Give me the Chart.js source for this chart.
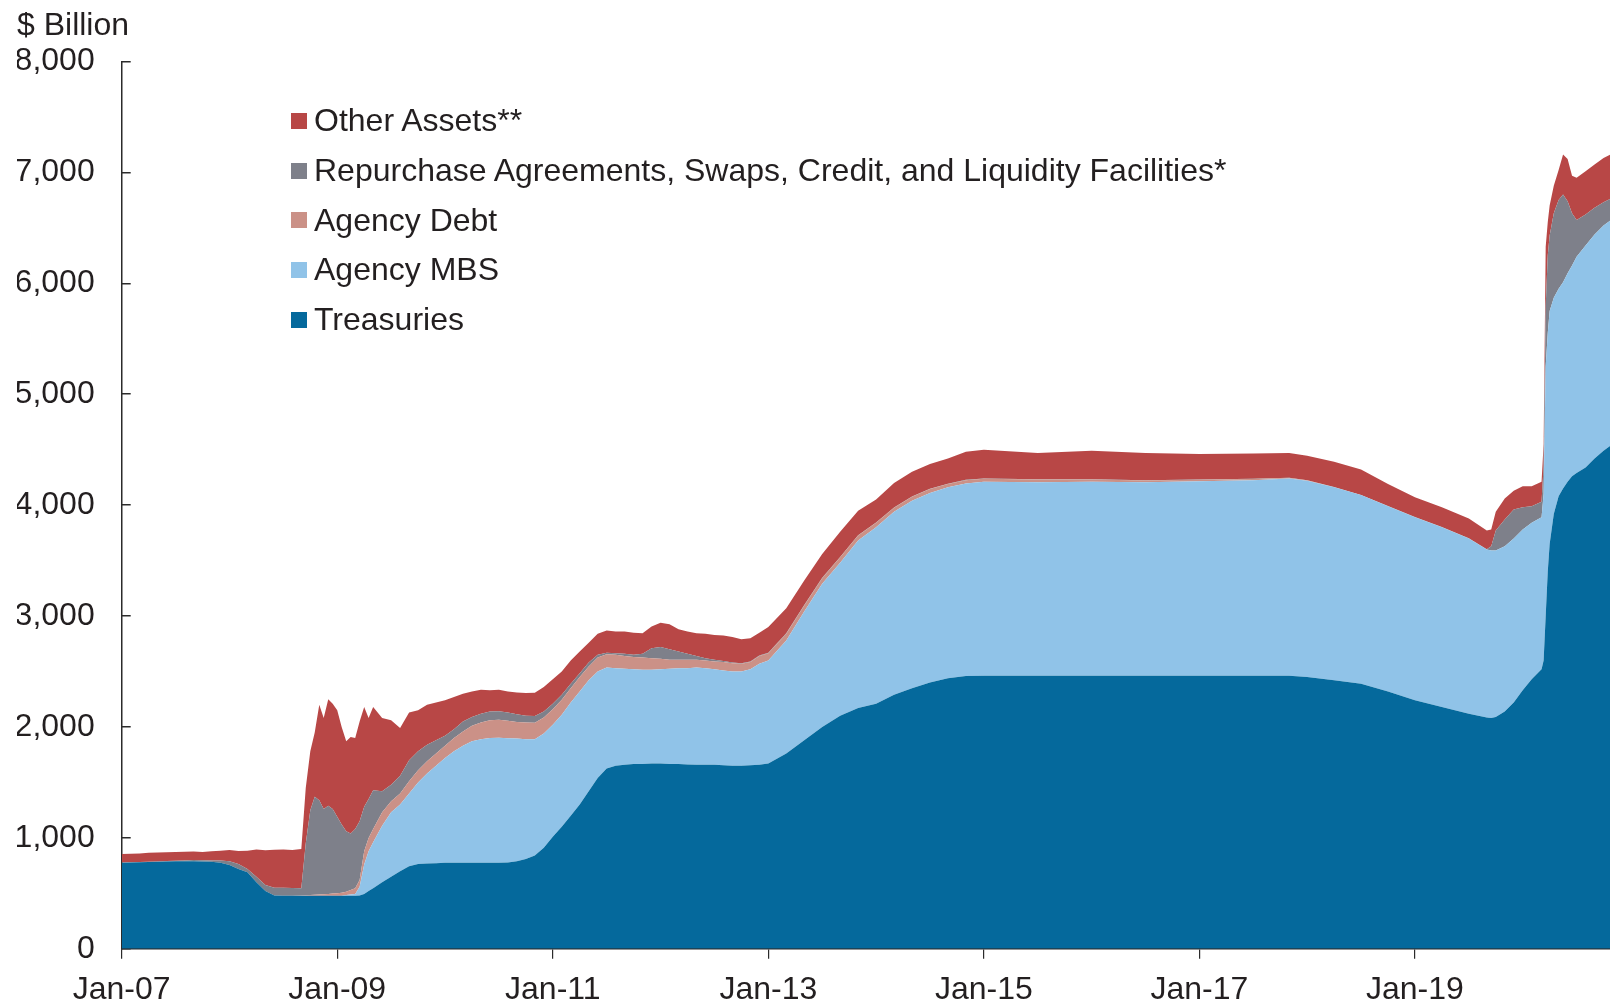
<!DOCTYPE html>
<html>
<head>
<meta charset="utf-8">
<script src="https://cdn.jsdelivr.net/npm/chart.js@4.4.0/dist/chart.umd.min.js"></script>
<style>
  body { margin: 0; background: #fff; }
  #wrap { position: relative; width: 1610px; height: 1004px; }
  #legend { position: absolute; left: 291px; top: 96px; font: 32px "Liberation Sans", Arial, sans-serif; color: #231f20; }
  #legend .row { height: 49.7px; display: flex; align-items: center; white-space: nowrap; }
  #legend .box { width: 16px; height: 16px; margin-right: 7px; }
</style>
</head>
<body>
<div id="wrap">
  <canvas id="myChart" width="1610" height="1004"></canvas>
  <div id="legend"></div>
</div>
<script>
// dates of the readings, $ billion
const dates = [
  '2007-01-01','2007-02-01','2007-03-01','2007-04-01','2007-05-01','2007-06-01','2007-07-01','2007-08-01','2007-09-01','2007-10-01','2007-11-01','2007-12-01',
  '2008-01-01','2008-02-01','2008-03-01','2008-04-01','2008-05-01','2008-06-01','2008-07-01','2008-08-01','2008-09-01','2008-09-16','2008-10-01','2008-10-16','2008-11-01','2008-11-16','2008-12-01','2008-12-16',
  '2009-01-01','2009-01-16','2009-02-01','2009-02-16','2009-03-01','2009-03-16','2009-04-01','2009-04-16','2009-05-01','2009-06-01','2009-07-01','2009-08-01','2009-09-01','2009-10-01','2009-11-01','2009-12-01',
  '2010-01-01','2010-02-01','2010-03-01','2010-04-01','2010-05-01','2010-06-01','2010-07-01','2010-08-01','2010-09-01','2010-10-01','2010-11-01','2010-12-01',
  '2011-01-01','2011-02-01','2011-03-01','2011-04-01','2011-05-01','2011-06-01','2011-07-01','2011-08-01','2011-09-01','2011-10-01','2011-11-01','2011-12-01',
  '2012-01-01','2012-02-01','2012-03-01','2012-04-01','2012-05-01','2012-06-01','2012-07-01','2012-08-01','2012-09-01','2012-10-01','2012-11-01','2012-12-01',
  '2013-01-01','2013-03-01','2013-05-01','2013-07-01','2013-09-01','2013-11-01',
  '2014-01-01','2014-03-01','2014-05-01','2014-07-01','2014-09-01','2014-11-01',
  '2015-01-01','2015-07-01','2016-01-01','2016-07-01','2017-01-01','2017-07-01','2017-11-01',
  '2018-01-01','2018-04-01','2018-07-01','2018-10-01','2019-01-01','2019-04-01','2019-07-01','2019-09-01','2019-09-16','2019-10-01','2019-11-01','2019-12-01',
  '2020-01-01','2020-02-01','2020-03-04','2020-03-11','2020-03-18','2020-03-25','2020-04-01','2020-04-15','2020-05-01','2020-05-16','2020-06-01','2020-06-16','2020-07-01','2020-08-01','2020-09-01','2020-10-01','2020-11-01'
];

const treasuries = [
  775,778,780,782,785,788,790,790,790,788,785,775,
  755,720,690,600,520,480,478,478,478,478,478,478,478,478,478,478,
  478,478,478,478,478,480,495,520,545,600,650,700,745,765,770,772,
  775,776,776,776,776,776,776,778,790,810,840,910,
  1010,1100,1200,1300,1420,1540,1625,1650,1660,1665,1665,1670,
  1670,1665,1665,1662,1660,1660,1660,1655,1650,1650,1655,1660,
  1670,1760,1880,2000,2100,2170,
  2210,2290,2350,2400,2440,2460,
  2462,2462,2462,2462,2462,2462,2462,
  2450,2420,2390,2320,2240,2180,2120,2085,2080,2090,2140,2220,
  2330,2430,2520,2600,3000,3400,3650,3920,4080,4150,4210,4260,4290,4340,4420,4490,4550
];

const agencyMbs = [
  0,0,0,0,0,0,0,0,0,0,0,0,
  0,0,0,0,0,0,0,0,0,0,0,0,0,0,0,0,
  0,0,7,12,17,80,265,360,415,510,580,600,655,735,810,878,
  945,1004,1054,1094,1114,1124,1126,1120,1105,1080,1048,1030,
  1010,1010,1020,1020,1000,960,910,880,865,855,850,845,
  850,860,865,868,875,870,860,855,850,850,865,910,
  930,1020,1160,1290,1380,1510,
  1590,1650,1690,1710,1720,1735,
  1748,1743,1748,1743,1753,1763,1778,
  1770,1740,1700,1670,1650,1620,1580,1515,1510,1500,1490,1480,
  1450,1410,1370,1500,2250,2150,2100,1950,1870,1860,1880,1900,1950,2000,2020,2030,2030
];

const agencyDebt = [
  0,0,0,0,0,0,0,0,0,0,0,0,
  0,0,0,0,0,0,0,0,2,4,7,9,12,14,17,20,
  22,27,30,40,50,60,120,120,120,120,100,100,110,110,110,110,
  110,120,130,140,150,160,164,157,150,150,150,145,
  140,135,130,130,125,125,120,120,115,110,110,105,
  95,80,75,75,70,70,70,75,75,70,65,70,
  65,60,55,50,50,45,
  40,35,35,35,30,30,
  28,25,20,17,13,10,5,
  3,2,0,0,0,0,0,0,0,0,0,0,
  0,0,0,0,0,0,0,0,0,0,0,0,0,0,0,0,0
];

const repoFacilities = [
  3,3,3,3,3,3,3,5,10,10,10,20,
  35,45,30,50,55,70,72,70,65,468,765,883,850,768,795,762,
  690,615,545,510,535,530,400,350,350,190,150,160,190,170,150,120,
  90,80,90,80,80,80,75,75,70,60,60,55,
  50,45,40,35,35,25,15,15,20,20,35,90,
  105,95,75,55,35,20,15,10,5,5,5,5,
  5,5,5,5,3,3,
  3,3,3,3,3,3,
  2,2,2,2,2,2,2,
  2,2,2,2,2,2,2,3,40,180,240,260,
  200,150,140,250,540,700,680,760,800,790,650,470,330,280,240,210,190
];

const otherAssets = [
  77,77,77,80,80,79,79,80,78,74,85,90,
  100,117,165,245,313,342,345,342,355,500,530,580,860,820,960,950,
  960,880,810,870,820,900,900,730,750,660,580,430,430,370,360,340,
  320,290,250,230,215,190,194,190,195,205,210,220,
  220,210,210,195,180,190,200,195,200,200,185,195,
  220,225,200,200,205,220,225,230,230,215,210,205,
  230,225,220,215,227,222,
  207,222,222,222,227,252,
  260,238,258,246,230,228,223,
  220,226,228,198,178,178,178,167,150,170,190,170,
  190,180,180,200,540,300,270,250,270,360,380,340,380,390,390,400,400
];

const seriesNames = [
  'Treasuries',
  'Agency MBS',
  'Agency Debt',
  'Repurchase Agreements, Swaps, Credit, and Liquidity Facilities*',
  'Other Assets**'
];
const seriesColors = ['#05699c', '#90c3e8', '#cb9187', '#7e808a', '#b84746'];

const xTickYears = [2007, 2009, 2011, 2013, 2015, 2017, 2019];
const xTickLabels = ['Jan-07', 'Jan-09', 'Jan-11', 'Jan-13', 'Jan-15', 'Jan-17', 'Jan-19'];

function toYear(s) {
  const [y, m, d] = s.split('-').map(Number);
  return y + (m - 1) / 12 + (d - 1) / 365;
}

const xs = dates.map(toYear);
const seriesValues = [treasuries, agencyMbs, agencyDebt, repoFacilities, otherAssets];
const textColor = '#231f20';
const axisColor = '#2b2b2b';
const font = { family: '"Liberation Sans", Arial, sans-serif', size: 32 };

const ctx = document.getElementById('myChart').getContext('2d');
new Chart(ctx, {
  type: 'line',
  data: {
    datasets: seriesValues.map((vals, i) => ({
      label: seriesNames[i],
      data: vals.map((v, j) => ({ x: xs[j], y: v })),
      backgroundColor: seriesColors[i],
      borderColor: seriesColors[i],
      borderWidth: 0,
      pointRadius: 0,
      tension: 0,
      fill: i === 0 ? 'origin' : '-1'
    }))
  },
  options: {
    responsive: false,
    animation: false,
    layout: { padding: { left: 17, top: 0, right: 0, bottom: 0 } },
    plugins: {
      legend: { display: false },
      tooltip: { enabled: false },
      title: {
        display: true,
        text: '$ Billion',
        align: 'start',
        color: textColor,
        font: { ...font, weight: 'normal' },
        padding: { top: 7, bottom: 16 }
      }
    },
    scales: {
      x: {
        type: 'linear',
        min: 2007,
        max: 2020.81,
        afterBuildTicks: (scale) => {
          scale.ticks = xTickYears.map(v => ({ value: v }));
        },
        ticks: {
          callback: (v) => xTickLabels[xTickYears.indexOf(v)],
          color: textColor,
          font: font,
          padding: 12,
          maxRotation: 0,
          autoSkip: false
        },
        grid: { drawOnChartArea: false, tickLength: 10, color: axisColor, lineWidth: 1.2 },
        border: { color: axisColor, width: 1.5 },
        afterFit: (scale) => { scale.height = 52; }
      },
      y: {
        stacked: true,
        min: 0,
        max: 8000,
        ticks: { stepSize: 1000, color: textColor, font: font, padding: 36 },
        grid: { drawOnChartArea: false, tickLength: -9, color: axisColor, lineWidth: 1.5 },
        border: { color: axisColor, width: 1.5 },
        afterFit: (scale) => { scale.width = 104.7; }
      }
    }
  }
});

// legend, top item is the top layer
const legendEl = document.getElementById('legend');
for (let i = seriesNames.length - 1; i >= 0; i--) {
  const row = document.createElement('div');
  row.className = 'row';
  const box = document.createElement('span');
  box.className = 'box';
  box.style.background = seriesColors[i];
  const label = document.createElement('span');
  label.textContent = seriesNames[i];
  row.appendChild(box);
  row.appendChild(label);
  legendEl.appendChild(row);
}
</script>
</body>
</html>
